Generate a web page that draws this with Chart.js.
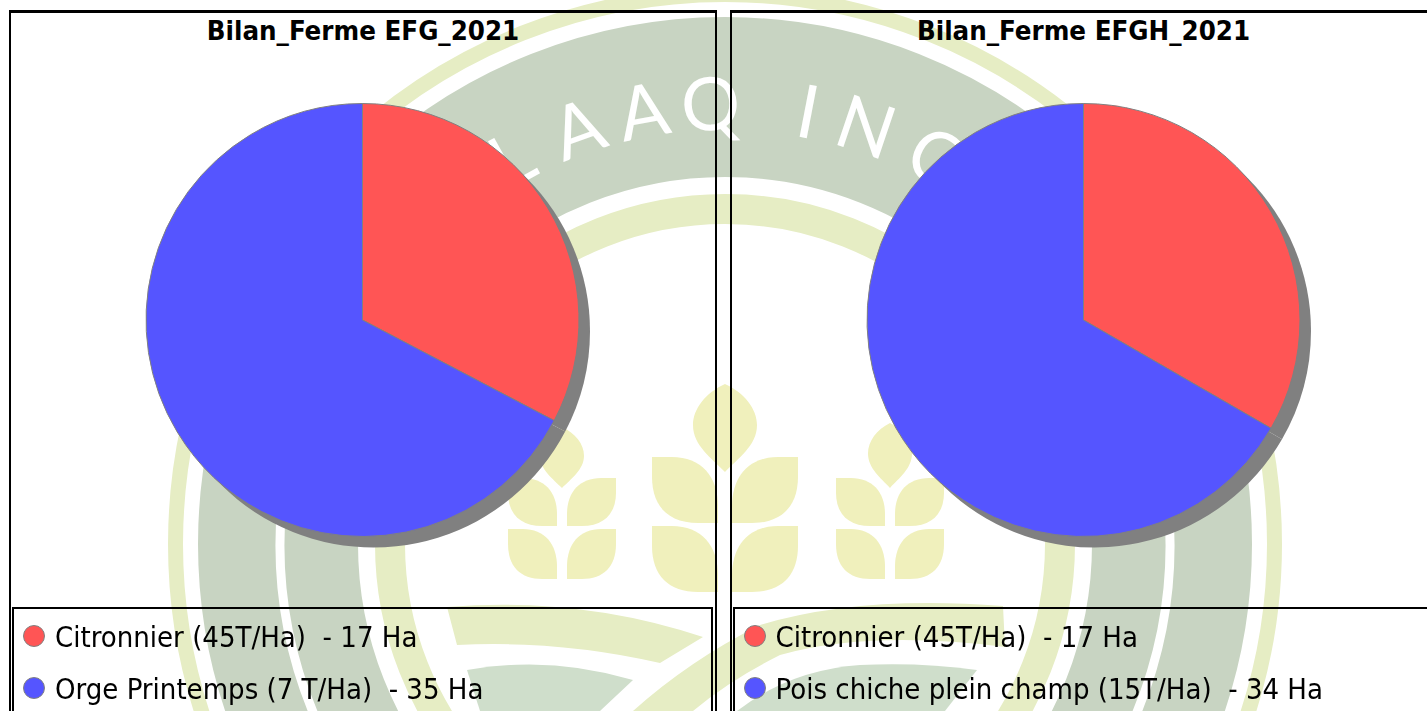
<!DOCTYPE html>
<html>
<head>
<meta charset="utf-8">
<title>Bilan Ferme</title>
<script src="https://cdn.jsdelivr.net/npm/chart.js@4"></script>
<style>
  html, body { margin: 0; height: 100%; overflow: hidden; background: #fff; }
  body { position: relative; width: 1427px; height: 711px; font-family: "DejaVu Sans", sans-serif; color: #000; }
  #bg { position: absolute; left: 0; top: 0; filter: blur(0.7px); }
  .panel { position: absolute; top: 10px; width: 704px; height: 720px; border: 3px solid #000; border-width: 3px 2.5px; }
  .panel h2 { position: absolute; left: 0; right: 0; top: 2px; margin: 0; text-align: center; font-size: 27.4px; line-height: 32px; font-weight: bold; font-stretch: condensed; }
  .panel canvas { position: absolute; left: 1px; top: 19px; }
  .legend { position: absolute; left: 1px; top: 594px; width: 697px; height: 120px; border: 2px solid #000; }
  .item { position: absolute; left: 8px; height: 24px; white-space: pre; font-size: 29px; line-height: 24px; font-stretch: condensed; }
  .item i { position: absolute; left: 1px; top: 1px; width: 20px; height: 20px; border: 1.5px solid #808080; border-radius: 50%; }
  .item span { position: absolute; left: 33px; top: 1px; }
</style>
</head>
<body>
<svg id="bg" width="1427" height="711" viewBox="0 0 1427 711">
  <g fill="none">
    <circle cx="725" cy="544" r="549.5" stroke="#E6EDC4" stroke-width="15"/>
    <circle cx="725" cy="544" r="447" stroke="#C8D4C2" stroke-width="160"/>
    <circle cx="725" cy="544" r="335" stroke="#E6EDC4" stroke-width="30"/>
    <path d="M282.2 500 A445 445 0 0 0 316.3 720 M1167.8 500 A445 445 0 0 1 1133.7 720" stroke="#fff" stroke-width="9"/>
  </g>
  <g id="ringText" fill="#fff" font-family="Lato, 'Open Sans', sans-serif" font-weight="400" font-size="74" text-anchor="middle"></g>
  <g fill="#F0F0BC" id="wheat"></g>
  <path fill="#E6EDC4" d="M447,607 Q580,596 703,637 L660,663 Q560,640 457,645 Z"/>
  <path fill="#E6EDC4" d="M633,711 Q690,660 760,625 Q860,595 1003,606 L1005,647 Q870,630 780,655 Q730,680 693,711 Z"/>
  <path fill="#CFDECB" d="M467,670 Q550,655 633,680 L600,711 L480,711 Z"/>
  <path fill="#CFDECB" d="M737,711 Q790,670 860,665 Q920,662 977,670 L945,711 Z"/>
</svg>

<div class="panel" style="left:9px">
  <h2 id="title1"></h2>
  <canvas id="chart1" width="701" height="576"></canvas>
  <div class="legend" id="legend1"></div>
</div>
<div class="panel" style="left:729.5px">
  <h2 id="title2"></h2>
  <canvas id="chart2" width="701" height="576"></canvas>
  <div class="legend" id="legend2"></div>
</div>

<script>
// chart data
const titleEfg = "Bilan_Ferme EFG_2021";
const titleEfgh = "Bilan_Ferme EFGH_2021";
const cropsEfg = ["Citronnier (45T/Ha) ", "Orge Printemps (7 T/Ha) "];
const cropsEfgh = ["Citronnier (45T/Ha) ", "Pois chiche plein champ (15T/Ha) "];
const hectaresEfg = [17, 35];
const hectaresEfgh = [17, 34];
const sliceColors = ["#FF5555", "#5555FF"];

// background logo
const ringLetters = ["L", "A", "A", "Q", "I", "N", "C"];
const ringAngles = [-29, -19.5, -10.7, -1.9, 10.9, 18.7, 28.5];
const ns = "http://www.w3.org/2000/svg";

ringLetters.forEach((ch, i) => {
  const t = document.createElementNS(ns, "text");
  t.setAttribute("x", 725);
  t.setAttribute("y", 544 - 414);
  t.setAttribute("transform", "rotate(" + ringAngles[i] + " 725 544)");
  t.textContent = ch;
  document.getElementById("ringText").appendChild(t);
});

function leaf(x, y, w, h, flip) {
  const p = document.createElementNS(ns, "path");
  p.setAttribute("d", "M0 0 L" + w * 0.3 + " 0 C" + w * 0.75 + " 0 " + w + " " + h * 0.3 + " " + w + " " + h * 0.75 +
    " L" + w + " " + h + " L" + w * 0.7 + " " + h + " C" + w * 0.25 + " " + h + " 0 " + h * 0.75 + " 0 " + h * 0.3 + " Z");
  p.setAttribute("transform", "translate(" + x + " " + y + ")" + (flip ? " scale(-1 1)" : ""));
  document.getElementById("wheat").appendChild(p);
}

function drop(cx, top, w, h) {
  const p = document.createElementNS(ns, "path");
  const r = w / 2;
  const bot = top + h;
  p.setAttribute("d", "M" + cx + " " + top +
    " C" + (cx - r * 0.6) + " " + (top + h * 0.1) + " " + (cx - r) + " " + (top + h * 0.28) + " " + (cx - r) + " " + (top + h * 0.47) +
    " C" + (cx - r) + " " + (top + h * 0.7) + " " + (cx - r * 0.4) + " " + (bot - h * 0.15) + " " + cx + " " + bot +
    " C" + (cx + r * 0.4) + " " + (bot - h * 0.15) + " " + (cx + r) + " " + (top + h * 0.7) + " " + (cx + r) + " " + (top + h * 0.47) +
    " C" + (cx + r) + " " + (top + h * 0.28) + " " + (cx + r * 0.6) + " " + (top + h * 0.1) + " " + cx + " " + top + " Z");
  document.getElementById("wheat").appendChild(p);
}

[[562, 427, 61, 49, 48, 478, 529], [890, 423, 65, 49, 48, 478, 529]].forEach(s => {
  drop(s[0], s[1], 44, s[2]);
  leaf(s[0] - 54, s[5], s[3], s[4], false);
  leaf(s[0] + 54, s[5], s[3], s[4], true);
  leaf(s[0] - 54, s[6], s[3], s[4] + 2, false);
  leaf(s[0] + 54, s[6], s[3], s[4] + 2, true);
});
drop(725, 384, 64, 88);
leaf(652, 457, 66, 66, false);
leaf(798, 457, 66, 66, true);
leaf(652, 526, 66, 66, false);
leaf(798, 526, 66, 66, true);

// grey pie shadow, offset down and right
const pieShadow = {
  id: "pieShadow",
  beforeDatasetsDraw(chart) {
    const ctx = chart.ctx;
    chart.getDatasetMeta(0).data.forEach(arc => {
      ctx.beginPath();
      ctx.moveTo(arc.x + 11, arc.y + 11);
      ctx.arc(arc.x + 11, arc.y + 11, arc.outerRadius, arc.startAngle, arc.endAngle);
      ctx.closePath();
      ctx.fillStyle = "#808080";
      ctx.fill();
    });
  }
};

function drawPie(id, labels, values) {
  new Chart(document.getElementById(id).getContext("2d"), {
    type: "pie",
    data: {
      labels: labels,
      datasets: [{
        data: values,
        backgroundColor: sliceColors,
        borderColor: "#808080",
        borderWidth: 1,
        radius: 216.5
      }]
    },
    options: {
      responsive: false,
      animation: false,
      plugins: { legend: { display: false }, tooltip: { enabled: false } }
    },
    plugins: [pieShadow]
  });
}

function drawLegend(id, labels, values) {
  const box = document.getElementById(id);
  labels.forEach((label, i) => {
    const row = document.createElement("div");
    row.className = "item";
    row.style.top = 15 + i * 51.5 + "px";
    const dot = document.createElement("i");
    dot.style.background = sliceColors[i];
    const txt = document.createElement("span");
    txt.textContent = label + " - " + values[i] + " Ha";
    row.appendChild(dot);
    row.appendChild(txt);
    box.appendChild(row);
  });
}

document.getElementById("title1").textContent = titleEfg;
document.getElementById("title2").textContent = titleEfgh;
drawPie("chart1", cropsEfg, hectaresEfg);
drawPie("chart2", cropsEfgh, hectaresEfgh);
drawLegend("legend1", cropsEfg, hectaresEfg);
drawLegend("legend2", cropsEfgh, hectaresEfgh);
</script>
</body>
</html>
